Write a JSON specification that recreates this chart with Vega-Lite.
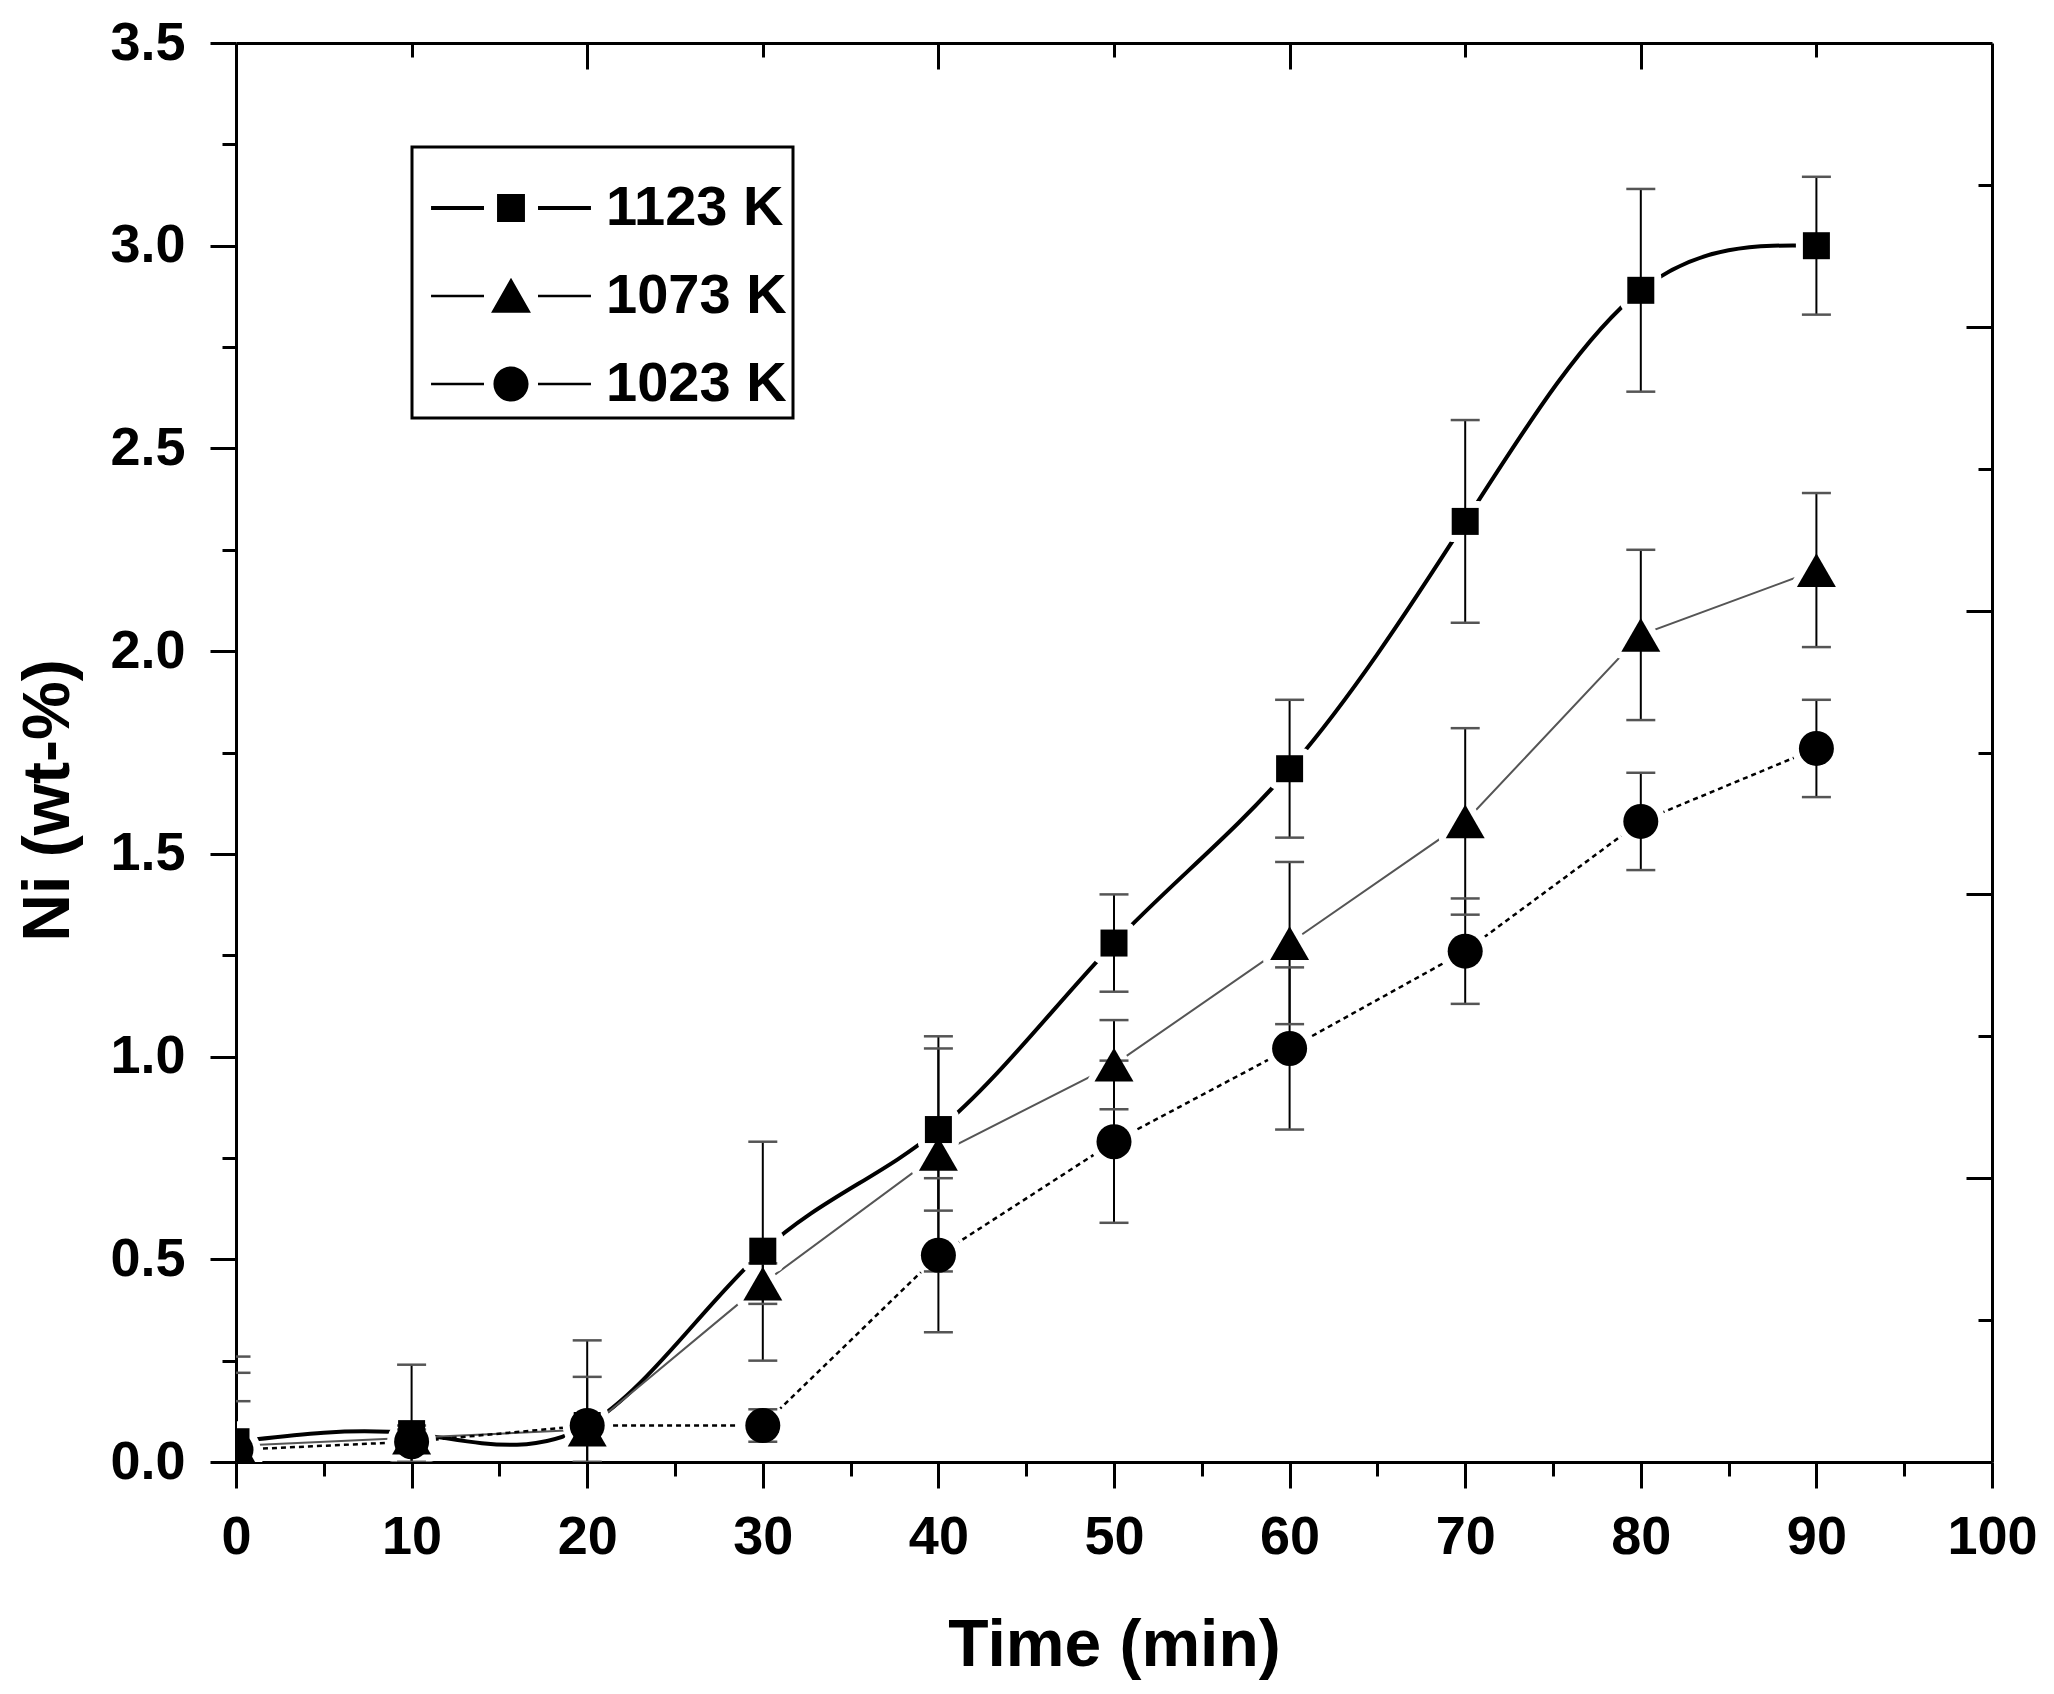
{
  "$schema": "https://vega.github.io/schema/vega-lite/v6.json",
  "width": 1756,
  "height": 1419,
  "autosize": {"type": "none"},
  "padding": {"left": 236, "top": 43, "right": 62, "bottom": 232},
  "background": "white",
  "config": {
    "view": {"stroke": null},
    "font": "Liberation Sans",
    "legend": {"strokeWidth": 3},
    "axis": {
      "grid": false,
      "domainColor": "black",
      "domainWidth": 3,
      "tickColor": "black",
      "tickWidth": 3,
      "labelFont": "Liberation Sans",
      "labelFontWeight": "bold",
      "labelFontSize": 54,
      "labelColor": "black",
      "titleFont": "Liberation Sans",
      "titleFontWeight": "bold",
      "titleFontSize": 66,
      "titleColor": "black",
      "labelFlush": false,
      "labelOverlap": false
    }
  },
  "data": {
    "values": [
      {"t": 0, "series": "1023 K", "ni": 0.03, "lo": 0, "hi": 0.22},
      {"t": 10, "series": "1023 K", "ni": 0.05, "lo": 0, "hi": 0.08},
      {"t": 20, "series": "1023 K", "ni": 0.09, "lo": 0.07, "hi": 0.11},
      {"t": 30, "series": "1023 K", "ni": 0.09, "lo": 0.05, "hi": 0.13},
      {"t": 40, "series": "1023 K", "ni": 0.51, "lo": 0.32, "hi": 0.70},
      {"t": 50, "series": "1023 K", "ni": 0.79, "lo": 0.59, "hi": 0.99},
      {"t": 60, "series": "1023 K", "ni": 1.02, "lo": 0.82, "hi": 1.22},
      {"t": 70, "series": "1023 K", "ni": 1.26, "lo": 1.13, "hi": 1.39},
      {"t": 80, "series": "1023 K", "ni": 1.58, "lo": 1.46, "hi": 1.70},
      {"t": 90, "series": "1023 K", "ni": 1.76, "lo": 1.64, "hi": 1.88},
      {"t": 0, "series": "1123 K", "ni": 0.05, "lo": 0, "hi": 0.26},
      {"t": 10, "series": "1123 K", "ni": 0.07, "lo": 0, "hi": 0.24},
      {"t": 20, "series": "1123 K", "ni": 0.09, "lo": 0, "hi": 0.30},
      {"t": 30, "series": "1123 K", "ni": 0.52, "lo": 0.25, "hi": 0.79},
      {"t": 40, "series": "1123 K", "ni": 0.82, "lo": 0.62, "hi": 1.02},
      {"t": 50, "series": "1123 K", "ni": 1.28, "lo": 1.16, "hi": 1.40},
      {"t": 60, "series": "1123 K", "ni": 1.71, "lo": 1.54, "hi": 1.88},
      {"t": 70, "series": "1123 K", "ni": 2.32, "lo": 2.07, "hi": 2.57},
      {"t": 80, "series": "1123 K", "ni": 2.89, "lo": 2.64, "hi": 3.14},
      {"t": 90, "series": "1123 K", "ni": 3.00, "lo": 2.83, "hi": 3.17},
      {"t": 0, "series": "1073 K", "ni": 0.04, "lo": 0, "hi": 0.15},
      {"t": 10, "series": "1073 K", "ni": 0.06, "lo": 0.03, "hi": 0.09},
      {"t": 20, "series": "1073 K", "ni": 0.08, "lo": 0, "hi": 0.21},
      {"t": 30, "series": "1073 K", "ni": 0.44, "lo": 0.39, "hi": 0.49},
      {"t": 40, "series": "1073 K", "ni": 0.76, "lo": 0.47, "hi": 1.05},
      {"t": 50, "series": "1073 K", "ni": 0.98, "lo": 0.87, "hi": 1.09},
      {"t": 60, "series": "1073 K", "ni": 1.28, "lo": 1.08, "hi": 1.48},
      {"t": 70, "series": "1073 K", "ni": 1.58, "lo": 1.35, "hi": 1.81},
      {"t": 80, "series": "1073 K", "ni": 2.04, "lo": 1.83, "hi": 2.25},
      {"t": 90, "series": "1073 K", "ni": 2.20, "lo": 2.01, "hi": 2.39}
    ]
  },
  "layer": [
    {
      "transform": [{"filter": "datum.series === '1123 K'"}],
      "mark": {"type": "line", "interpolate": "natural", "color": "black", "strokeWidth": 4, "clip": true},
      "encoding": {
        "x": {
          "field": "t", "type": "quantitative",
          "scale": {"domain": [0, 100], "nice": false, "zero": false},
          "axis": {
            "orient": "bottom",
            "values": [0, 5, 10, 15, 20, 25, 30, 35, 40, 45, 50, 55, 60, 65, 70, 75, 80, 85, 90, 95, 100],
            "labelExpr": "datum.value % 10 === 0 ? datum.label : ''",
            "tickSize": {"condition": {"test": "datum.value % 10 === 0", "value": 26}, "value": 14},
            "labelPadding": 22,
            "title": "Time (min)",
            "titleBaseline": "alphabetic",
            "titleY": 203
          }
        },
        "y": {
          "field": "ni", "type": "quantitative",
          "scale": {"domain": [0, 3.5], "nice": false, "zero": false},
          "axis": {
            "orient": "left",
            "values": [0, 0.25, 0.5, 0.75, 1, 1.25, 1.5, 1.75, 2, 2.25, 2.5, 2.75, 3, 3.25, 3.5],
            "labelExpr": "datum.value % 0.5 === 0 ? format(datum.value, '.1f') : ''",
            "tickSize": {"condition": {"test": "datum.value % 0.5 === 0", "value": 26}, "value": 14},
            "labelPadding": 25,
            "title": "Ni (wt-%)",
            "titleAngle": 270,
            "titleBaseline": "alphabetic",
            "titleX": -168,
            "titleY": 757
          }
        }
      }
    },
    {
      "transform": [{"filter": "datum.series === '1073 K'"}],
      "mark": {"type": "line", "interpolate": "linear", "color": "#555555", "strokeWidth": 2, "clip": true},
      "encoding": {
        "x": {"field": "t", "type": "quantitative", "axis": null},
        "y": {"field": "ni", "type": "quantitative", "axis": null}
      }
    },
    {
      "transform": [{"filter": "datum.series === '1023 K'"}],
      "mark": {"type": "line", "interpolate": "linear", "color": "black", "strokeWidth": 2.5, "strokeDash": [5, 4], "clip": true},
      "encoding": {
        "x": {"field": "t", "type": "quantitative", "axis": null},
        "y": {"field": "ni", "type": "quantitative", "axis": null}
      }
    },
    {
      "mark": {"type": "point", "filled": true, "fill": "white", "stroke": "white", "strokeWidth": 14, "strokeJoin": "round", "opacity": 1, "clip": true},
      "encoding": {
        "x": {
          "field": "t", "type": "quantitative",
          "axis": {
            "orient": "top",
            "values": [10, 20, 30, 40, 50, 60, 70, 80, 90],
            "labels": false,
            "title": null,
            "tickSize": {"condition": {"test": "datum.value % 20 === 0", "value": -26}, "value": -14}
          }
        },
        "y": {
          "field": "ni", "type": "quantitative",
          "axis": {
            "orient": "right",
            "values": [0.35, 0.7, 1.05, 1.4, 1.75, 2.1, 2.45, 2.8, 3.15],
            "labels": false,
            "title": null,
            "tickSize": {"condition": {"test": "round(datum.value*100) % 70 === 0", "value": -26}, "value": -14}
          }
        },
        "shape": {
          "condition": [
            {"test": "datum.series === '1123 K'", "value": "square"},
            {"test": "datum.series === '1073 K'", "value": "triangle-up"}
          ],
          "value": "circle"
        },
        "size": {
          "condition": [
            {"test": "datum.series === '1123 K'", "value": 729},
            {"test": "datum.series === '1073 K'", "value": 1521}
          ],
          "value": 1225
        }
      }
    },
    {
      "mark": {"type": "rule", "color": "black", "strokeWidth": 2, "clip": true},
      "encoding": {
        "x": {"field": "t", "type": "quantitative", "axis": null},
        "y": {"field": "lo", "type": "quantitative", "axis": null},
        "y2": {"field": "hi"}
      }
    },
    {
      "mark": {"type": "tick", "orient": "horizontal", "size": 29, "thickness": 2.5, "color": "#555555", "opacity": 1, "clip": true},
      "encoding": {
        "x": {"field": "t", "type": "quantitative", "axis": null},
        "y": {"field": "lo", "type": "quantitative", "axis": null}
      }
    },
    {
      "mark": {"type": "tick", "orient": "horizontal", "size": 29, "thickness": 2.5, "color": "#555555", "opacity": 1, "clip": true},
      "encoding": {
        "x": {"field": "t", "type": "quantitative", "axis": null},
        "y": {"field": "hi", "type": "quantitative", "axis": null}
      }
    },
    {
      "transform": [{"filter": "datum.series === '1023 K'"}],
      "mark": {"type": "point", "shape": "circle", "filled": true, "color": "black", "opacity": 1, "size": 1225, "clip": true},
      "encoding": {
        "x": {"field": "t", "type": "quantitative", "axis": null},
        "y": {"field": "ni", "type": "quantitative", "axis": null}
      }
    },
    {
      "transform": [{"filter": "datum.series === '1123 K'"}],
      "mark": {"type": "point", "shape": "square", "filled": true, "color": "black", "opacity": 1, "size": 729, "clip": true},
      "encoding": {
        "x": {"field": "t", "type": "quantitative", "axis": null},
        "y": {"field": "ni", "type": "quantitative", "axis": null}
      }
    },
    {
      "transform": [{"filter": "datum.series === '1073 K'"}],
      "mark": {"type": "point", "shape": "triangle-up", "filled": true, "color": "black", "opacity": 1, "size": 1521, "clip": true},
      "encoding": {
        "x": {"field": "t", "type": "quantitative", "axis": null},
        "y": {"field": "ni", "type": "quantitative", "axis": null}
      }
    },
    {
      "transform": [{"filter": "datum.t < 0"}],
      "mark": {"type": "point", "filled": true, "color": "black", "opacity": 1},
      "encoding": {
        "x": {"field": "t", "type": "quantitative", "axis": null},
        "y": {"field": "ni", "type": "quantitative", "axis": null},
        "shape": {
          "field": "series", "type": "nominal",
          "scale": {
            "domain": ["1123 K", "1073 K", "1023 K"],
            "range": [
              "M-5.33,-0.13H-1.8V0.13H-5.33ZM1.8,-0.13H5.33V0.13H1.8ZM-0.93,-0.93H0.93V0.93H-0.93Z",
              "M-5.33,-0.08H-1.8V0.08H-5.33ZM1.8,-0.08H5.33V0.08H1.8ZM0,-1.22L1.33,1.12H-1.33Z",
              "M-5.33,-0.08H-1.8V0.08H-5.33ZM1.8,-0.08H5.33V0.08H1.8ZM-1.17,0A1.17,1.17,0,1,0,1.17,0A1.17,1.17,0,1,0,-1.17,0Z"
            ]
          },
          "legend": {
            "orient": "none",
            "legendX": 176,
            "legendY": 104,
            "title": " ",
            "titleFontSize": 20,
            "titlePadding": 7,
            "padding": 6,
            "strokeColor": "black",
            "fillColor": "white",
            "symbolSize": 900,
            "symbolFillColor": "black",
            "symbolOpacity": 1,
            "symbolOffset": 65,
            "labelOffset": 67,
            "labelFont": "Liberation Sans",
            "labelFontSize": 56,
            "labelFontWeight": "bold",
            "labelColor": "black",
            "labelLimit": 400,
            "rowPadding": 32
          }
        }
      }
    }
  ],
  "resolve": {"axis": {"x": "independent", "y": "independent"}}
}
